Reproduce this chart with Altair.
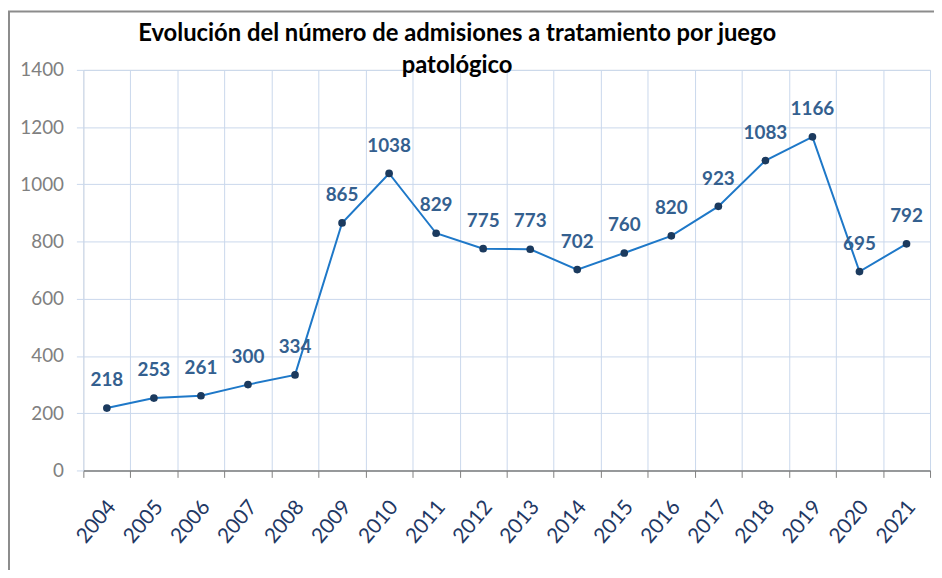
import altair as alt
import pandas as pd

years = [str(y) for y in range(2004, 2022)]
values = [218, 253, 261, 300, 334, 865, 1038, 829, 775, 773, 702, 760, 820, 923, 1083, 1166, 695, 792]
y_ticks = [0, 200, 400, 600, 800, 1000, 1200, 1400]
title_lines = ["Evolución del número de admisiones a tratamiento por juego", "patológico"]

df = pd.DataFrame({"year": years, "value": values})

FONT = "Lato"

x_enc = alt.X(
    "year:O",
    scale=alt.Scale(type="band", paddingInner=0, paddingOuter=0),
    axis=alt.Axis(
        title=None,
        tickBand="extent",
        grid=True,
        gridColor="#C9D8EC",
        gridWidth=1,
        domainColor="#7F7F7F",
        domainWidth=1.5,
        tickColor="#7F7F7F",
        tickSize=7,
        labelAngle=-50,
        labelAlign="right",
        labelBaseline="middle",
        labelPadding=26,
        labelOffset=5,
        labelColor="#1F3864",
        labelFont=FONT,
        labelFontSize=21,
    ),
)
y_enc = alt.Y(
    "value:Q",
    scale=alt.Scale(domain=[0, 1400], nice=False),
    axis=alt.Axis(
        title=None,
        values=y_ticks,
        format="d",
        grid=True,
        gridColor="#C9D8EC",
        gridWidth=1,
        domain=False,
        tickColor="#C9D8EC",
        tickSize=7,
        labelPadding=13,
        labelColor="#808080",
        labelFont=FONT,
        labelFontSize=19,
    ),
)

base = alt.Chart(df).encode(x=x_enc, y=y_enc)

line = base.mark_line(color="#1E78C8", strokeWidth=2)
points = base.mark_circle(color="#1B3A5E", size=60, opacity=1)
labels = base.mark_text(
    dy=-28, font=FONT, fontSize=19, fontWeight="bold", color="#34608F"
).encode(text="value:Q")

frame = alt.Chart(pd.DataFrame({"a": [0]})).mark_rect(
    fill=None, stroke="#8C8C8C", strokeWidth=2
).encode(
    x=alt.value(-75), x2=alt.value(900), y=alt.value(-59), y2=alt.value(560)
)

chart = alt.layer(frame, line, points, labels).properties(
    width=854,
    height=404,
    title=alt.TitleParams(
        text=title_lines,
        font=FONT,
        fontSize=24,
        fontWeight="bold",
        color="#000000",
        anchor="middle",
        frame="group",
        dx=-50,
        offset=-68,
        lineHeight=32,
    ),
    autosize=alt.AutoSizeParams(type="none"),
    padding={"left": 76, "top": 60, "right": 4, "bottom": 98},
).configure_view(stroke=None).configure(background="white")

chart.save("out.html", embed_options={"renderer": "svg", "actions": False})
